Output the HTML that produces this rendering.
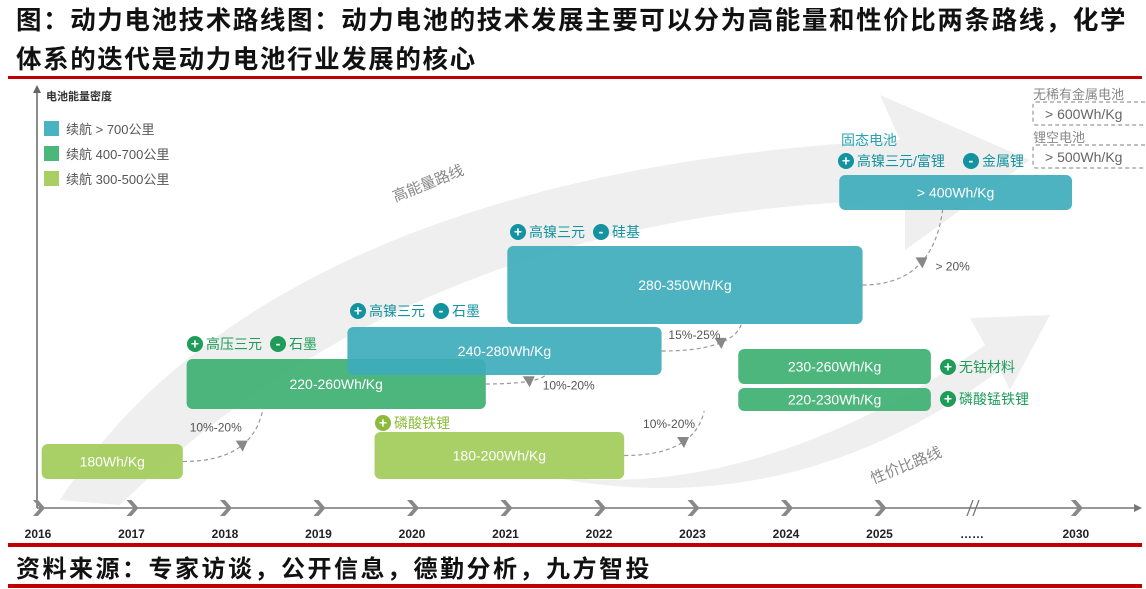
<!DOCTYPE html>
<html><head><meta charset="utf-8">
<style>
html,body{margin:0;padding:0;background:#fff;}
body{width:1146px;height:589px;overflow:hidden;position:relative;font-family:"Liberation Sans","Noto Sans CJK SC",sans-serif;}
.title{position:absolute;left:16px;top:2px;width:1140px;font-size:25.5px;font-weight:bold;line-height:39px;color:#111;white-space:nowrap;letter-spacing:1.6px;font-family:"Liberation Sans","Noto Sans CJK SC",sans-serif;}
.rule{position:absolute;left:8px;width:1134px;background:#c00000;}
.src{position:absolute;left:16px;top:549px;font-size:24px;letter-spacing:2.5px;font-weight:bold;color:#111;}
svg{position:absolute;left:0;top:0;}
</style></head><body>
<div class="title">图：动力电池技术路线图：动力电池的技术发展主要可以分为高能量和性价比两条路线，化学<br>体系的迭代是动力电池行业发展的核心</div>
<div class="rule" style="top:76px;height:3px"></div>
<div class="rule" style="top:543px;height:4px"></div>
<div class="src">资料来源：专家访谈，公开信息，德勤分析，九方智投</div>
<div class="rule" style="top:584px;height:4px"></div>
<svg id="chart" width="1146" height="589"></svg>
<script>
const years=["2016","2017","2018","2019","2020","2021","2022","2023","2024","2025","……","2030"];
const boxLabels=["180Wh/Kg","180-200Wh/Kg","220-260Wh/Kg","240-280Wh/Kg","280-350Wh/Kg","> 400Wh/Kg","230-260Wh/Kg","220-230Wh/Kg"];
const boxStart=[2016.05,2019.61,2017.6,2019.32,2021.03,2024.58,2023.5,2023.5];
const boxEnd=[2017.56,2022.28,2020.8,2022.68,2024.83,2027.07,2025.56,2025.56];
const boxTop=[64,76,149,181,262,333,159,120];
const boxBottom=[29,29,99,133,184,298,124,97];
const boxTier=[2,2,1,0,0,0,1,1];
const legendLabels=["续航 > 700公里","续航 400-700公里","续航 300-500公里"];
const growthLabels=["10%-20%","10%-20%","15%-25%","10%-20%","> 20%"];
const growthFrom=[0,2,3,1,4];
const growthTo=[2,3,4,7,5];

const svg=document.getElementById('chart');
const NS='http://www.w3.org/2000/svg';
const X0=37,STEP=93.5,Y0=508;
function xScale(y){return X0+(y-2016)*STEP;}
function yScale(v){return Y0-v;}
const tierColor=['rgba(62,172,187,0.92)','rgba(58,174,110,0.9)','rgba(160,203,86,0.9)'];
const legendColor=['#4ab3c1','#4cb77a','#a9cf64'];
function el(tag,attrs,parent){const e=document.createElementNS(NS,tag);for(const k in attrs)e.setAttribute(k,attrs[k]);(parent||svg).appendChild(e);return e;}
function txt(x,y,s,attrs){const t=el('text',Object.assign({x:x,y:y,'font-family':'"Liberation Sans","Noto Sans CJK SC",sans-serif'},attrs));t.textContent=s;return t;}

// background route arrows
let bg1=el('path',{d:'M60,500 C200,280 500,160 900,140 L880,95 L1030,160 L905,250 L905,200 C600,205 330,300 120,505 Z',fill:'#efefef'});

let bg2=el('path',{d:'M520,470 C700,510 880,420 985,345 L970,318 L1050,315 L1010,390 L1000,370 C880,460 720,520 520,470 Z',fill:'#efefef'});

let r1=txt(430,188,'高能量路线',{'font-size':15,fill:'#888',transform:'rotate(-22 430 188)','text-anchor':'middle'});

let r2=txt(908,470,'性价比路线',{'font-size':15,fill:'#888',transform:'rotate(-22 908 470)','text-anchor':'middle'});


// axes
let ya=el('line',{x1:X0,y1:Y0,x2:X0,y2:90,stroke:'#666','stroke-width':1.5});

el('path',{d:'M33,93 L37,85 L41,93 Z',fill:'#666'});
let yt=txt(46,100,'电池能量密度',{'font-size':11,'font-weight':'bold',fill:'#333'});

let xa=el('line',{x1:X0,y1:Y0,x2:1138,y2:Y0,stroke:'#777','stroke-width':1.5});

el('path',{d:'M1134,504 L1142,508 L1134,512 Z',fill:'#777'});
years.forEach((yr,i)=>{
  const x=i<10?xScale(2016+i):(i===10?xScale(2026)-1:xScale(2027.1));
  if(i!==10){const c=el('path',{d:`M${x-4},${Y0-8} L${x+3},${Y0} L${x-4},${Y0+8} L${x+1},${Y0+8} L${x+8},${Y0} L${x+1},${Y0-8} Z`,fill:'#888'});
  }
  else{el('path',{d:`M${x-4},${Y0+8} L${x+2},${Y0-8} M${x+2},${Y0+8} L${x+8},${Y0-8}`,stroke:'#777','stroke-width':1.3,fill:'none'});}
  const t=txt(x+1,538,yr,{'font-size':12,'font-weight':'bold',fill:'#222','text-anchor':'middle'});
  
});

// legend
legendLabels.forEach((l,i)=>{
  const r=el('rect',{x:44,y:121+i*25,width:15,height:15,fill:legendColor[i]});
  
  const t=txt(66,134+i*25,l,{'font-size':13,fill:'#555'});
  
});

// growth connectors (drawn before boxes)
function bx(i){return {x1:xScale(boxStart[i]),x2:xScale(boxEnd[i]),y1:yScale(boxTop[i]),y2:yScale(boxBottom[i])};}
growthFrom.forEach((f,k)=>{
  const a=bx(f),b=bx(growthTo[k]);
  const sx=a.x2,sy=(a.y1+a.y2)/2;
  const ex=Math.min(b.x2-20,sx+80+(k===1?-20:0)),ey=b.y2;
  const cx=ex-10,cy=sy;
  const p=el('path',{d:`M${sx},${sy} Q${cx},${cy} ${ex},${ey}`,stroke:'#999','stroke-width':1.2,'stroke-dasharray':'4,3',fill:'none'});
  
  const t0=0.55;
  const tx=(1-t0)*(1-t0)*sx+2*t0*(1-t0)*cx+t0*t0*ex, ty=(1-t0)*(1-t0)*sy+2*t0*(1-t0)*cy+t0*t0*ey;
  const ar=el('path',{d:`M${tx-6},${ty-5} L${tx+6},${ty-5} L${tx+1},${ty+6} Z`,fill:'#888'});
  
  const above=(k===0||k===2||k===3);
  const ly=k===2?ty-4:(above?ty-14:ty+8);
  const lx=k===3?tx-40:(above?tx-52:tx+14);
  const t=txt(lx,ly,growthLabels[k],{'font-size':12,fill:'#555'});
  
});

// boxes
boxLabels.forEach((l,i)=>{
  const b=bx(i);
  const r=el('rect',{x:b.x1,y:b.y1,width:b.x2-b.x1,height:b.y2-b.y1,rx:6,fill:tierColor[boxTier[i]]});
  
  const t=txt((b.x1+b.x2)/2,(b.y1+b.y2)/2+5,l,{'font-size':14,fill:'#fff','text-anchor':'middle'});
  
});

// tech annotations
function tag(x,y,items,col,name){
  const g=el('g',{});
  
  let cx=x;
  items.forEach(([sign,s])=>{
    el('circle',{cx:cx+8,cy:y-5,r:8,fill:col},g);
    const s2=el('text',{x:cx+8,y:y-0.5,'font-size':14,'font-weight':'bold',fill:'#fff','text-anchor':'middle','font-family':'"Liberation Sans",sans-serif'},g);s2.textContent=sign;
    const t=el('text',{x:cx+19,y:y,'font-size':14,fill:col,'font-family':'"Liberation Sans","Noto Sans CJK SC",sans-serif'},g);t.textContent=s;
    cx+=19+s.length*14+8;
  });
}
tag(187,349,[['+','高压三元'],['-','石墨']],'#1f9c5a','tag-2018');
tag(350,316,[['+','高镍三元'],['-','石墨']],'#13939f','tag-2020');
tag(510,237,[['+','高镍三元'],['-','硅基']],'#13939f','tag-2021');
tag(375,428,[['+','磷酸铁锂']],'#8cbb3c','tag-lfp');
tag(940,372,[['+','无钴材料']],'#1f9c5a','tag-cobalt-free');
tag(940,404,[['+','磷酸锰铁锂']],'#1f9c5a','tag-lmfp');
tag(838,166,[['+','高镍三元/富锂'],['-','金属锂']],'#13939f','tag-solid-state');
let ss=txt(841,145,'固态电池',{'font-size':14,fill:'#2aa3b0'});


// future dashed boxes
[['无稀有金属电池','> 600Wh/Kg',99],['锂空电池','> 500Wh/Kg',142]].forEach(([h,v,y],i)=>{
  const t=txt(1033,y,h,{'font-size':13,fill:'#888'});
  
  const r=el('rect',{x:1033,y:y+3,width:120,height:23,rx:3,fill:'none',stroke:'#999','stroke-dasharray':'4,3','stroke-width':1.2});
  
  const v2=txt(1045,y+20,v,{'font-size':14,fill:'#666'});
  
});
</script>
</body></html>
